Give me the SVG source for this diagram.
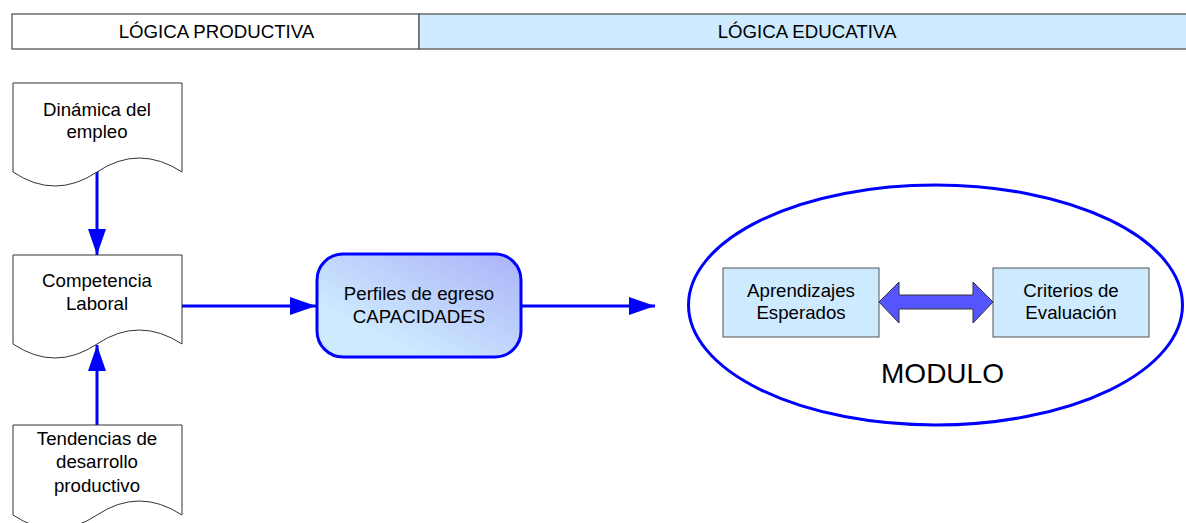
<svg xmlns="http://www.w3.org/2000/svg" width="1186" height="523" viewBox="0 0 1186 523">
<style>
text{font-family:"Liberation Sans",Arial,sans-serif;font-size:18.67px;fill:#000;text-anchor:middle}
.doc{fill:#fff;stroke:#333;stroke-width:1}
.hdr{stroke:#555;stroke-width:1.3}
.conn{stroke:#0000ff;stroke-width:3;fill:none}
.box{fill:#cdeaff;stroke:#555;stroke-width:1}
</style>
<defs>
<marker id="ah" viewBox="0 0 26 18" refX="26" refY="9" markerWidth="26" markerHeight="18" markerUnits="userSpaceOnUse" orient="auto">
<path d="M0,0 L26,9 L0,18 Z" fill="#0000ff"/>
</marker>
<linearGradient id="pg" x1="0" y1="1" x2="1" y2="0">
<stop offset="0.25" stop-color="#cdeaff"/>
<stop offset="1" stop-color="#aab2f8"/>
</linearGradient>
</defs>
<g id="header">
<rect x="12" y="14" width="407" height="35" fill="#fff" class="hdr"/>
<rect x="419" y="14" width="770" height="35" fill="#cdeaff" class="hdr"/>
<text x="216.5" y="38">LÓGICA PRODUCTIVA</text>
<text x="807" y="38">LÓGICA EDUCATIVA</text>
</g>
<g id="connectors">
<line x1="97" y1="170" x2="97" y2="255" class="conn" marker-end="url(#ah)"/>
<line x1="97" y1="425" x2="97" y2="345" class="conn" marker-end="url(#ah)"/>
<line x1="182" y1="306" x2="316" y2="306" class="conn" marker-end="url(#ah)"/>
<line x1="521" y1="306" x2="655" y2="306" class="conn" marker-end="url(#ah)"/>
</g>
<g id="dinamica">
<path class="doc" d="M13,172 V83 H182 V172 Q139,144 97,172 Q55,200 13,172 Z"/>
<text x="97" y="116">Dinámica del</text>
<text x="97" y="138">empleo</text>
</g>
<g id="competencia">
<path class="doc" d="M13,344 V255 H182 V344 Q139,316 97,344 Q55,372 13,344 Z"/>
<text x="97" y="287">Competencia</text>
<text x="97" y="310">Laboral</text>
</g>
<g id="tendencias">
<path class="doc" d="M13,515 V425 H182 V515 Q139,487 97,515 Q55,543 13,515 Z"/>
<text x="97" y="445">Tendencias de</text>
<text x="97" y="468">desarrollo</text>
<text x="97" y="492">productivo</text>
</g>
<g id="perfiles">
<rect x="317" y="254" width="204" height="103" rx="26" ry="26" fill="url(#pg)" stroke="#0000ff" stroke-width="3"/>
<text x="419" y="300">Perfiles de egreso</text>
<text x="419" y="323">CAPACIDADES</text>
</g>
<g id="modulo">
<ellipse cx="935.5" cy="305" rx="247" ry="120" fill="#fff" stroke="#0000ff" stroke-width="3"/>
<text x="942.5" y="383" style="font-size:28px">MODULO</text>
</g>
<g id="aprendizajes">
<rect x="723" y="268" width="156" height="69" class="box"/>
<text x="801" y="297">Aprendizajes</text>
<text x="801" y="319">Esperados</text>
</g>
<g id="criterios">
<rect x="993" y="268" width="156" height="69" class="box"/>
<text x="1071" y="297">Criterios de</text>
<text x="1071" y="319">Evaluación</text>
</g>
<g id="double-arrow">
<path d="M879,302 L899,282 L899,295 L973,295 L973,282 L993,302 L973,323 L973,309 L899,309 L899,323 Z" fill="#5555ff" stroke="#333" stroke-width="1"/>
</g>
</svg>
